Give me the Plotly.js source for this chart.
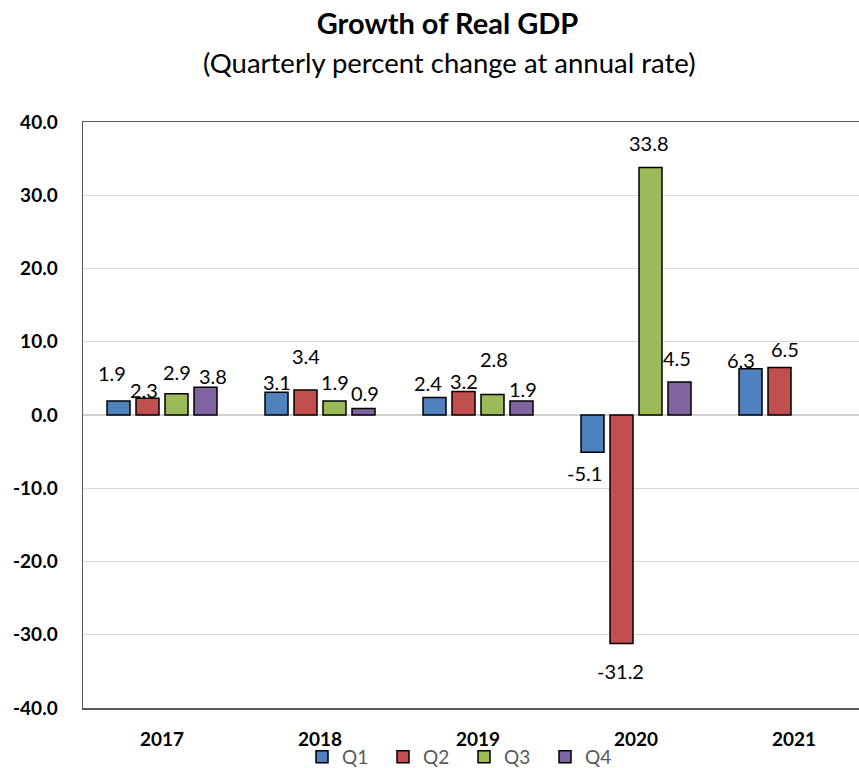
<!DOCTYPE html>
<html>
<head>
<meta charset="utf-8">
<script src="https://cdn.plot.ly/plotly-3.0.1.min.js"></script>
<style>
html, body { margin: 0; padding: 0; overflow: hidden; background: #fff; }
#chart { width: 895px; height: 768px; }
</style>
</head>
<body>
<div id="chart"></div>
<script>
// ---- data ----
const years = ["2017", "2018", "2019", "2020", "2021"];
const quarters = ["Q1", "Q2", "Q3", "Q4"];
const q1 = [1.9, 3.1, 2.4, -5.1, 6.3];
const q2 = [2.3, 3.4, 3.2, -31.2, 6.5];
const q3 = [2.9, 1.9, 2.8, 33.8, null];
const q4 = [3.8, 0.9, 1.9, 4.5, null];
const yTicks = [-40, -30, -20, -10, 0, 10, 20, 30, 40];

// ---- style ----
const colors = ["#4F81BD", "#C0504D", "#9BBB59", "#8064A2"];
const FONT = "Lato, 'Open Sans', sans-serif";
const slotPx = 29; // pixel distance between grouped bars
// label nudges in pixels [dx, dy] relative to bar end (dy positive = up)
const nudges = [
  [[-7, 28], [-4, 8], [0, 22], [7, 11]],
  [[0, 10], [0, 34], [0, 19], [1, 15]],
  [[-7, 14], [0, 11], [1, 35], [1, 12]],
  [[-8.5, -21], [-1.5, -27], [-2, 24], [-2.5, 24]],
  [[-9.5, 9], [5.5, 18], [0, 0], [0, 0]]
];

const series = [q1, q2, q3, q4];
const traces = series.map((vals, i) => ({
  type: "bar",
  name: quarters[i],
  x: years,
  y: vals,
  marker: { color: colors[i], line: { color: "#000000", width: 1.5 } },
  hoverinfo: "x+y+name"
}));

const annotations = [];
series.forEach((vals, i) => {
  vals.forEach((v, j) => {
    if (v === null || v === undefined) return;
    const n = nudges[j][i];
    annotations.push({
      x: j, y: v, xref: "x", yref: "y",   // j = category index of years[j]
      text: v.toFixed(1),
      showarrow: false,
      xanchor: "center", yanchor: "middle",
      xshift: (i - 1.5) * slotPx + n[0],
      yshift: n[1],
      font: { family: FONT, size: 20, color: "#000000" }
    });
  });
});

annotations.push({
  text: "(Quarterly percent change at annual rate)",
  xref: "paper", yref: "paper",
  x: (449 - 83) / 790, y: 1 + (122 - 63) / 586,
  xanchor: "center", yanchor: "middle",
  showarrow: false,
  font: { family: FONT, size: 27.5, color: "#000000" }
});

const layout = {
  width: 895, height: 768,
  margin: { l: 83, r: 22, t: 122, b: 60 },
  paper_bgcolor: "#ffffff", plot_bgcolor: "#ffffff",
  font: { family: FONT, color: "#000000" },
  title: {
    text: "<b>Growth of Real GDP</b>",
    x: 447.5 / 895, xref: "container", xanchor: "center",
    y: 1 - 24 / 768, yref: "container", yanchor: "middle",
    font: { family: FONT, size: 29, color: "#000000" }
  },
  barmode: "group",
  bargap: 0.266,
  bargroupgap: 0.207,
  xaxis: {
    type: "category",
    range: [-0.5, 4.5],
    showline: true, linecolor: "#595959", linewidth: 1.5, mirror: true,
    showgrid: false,
    ticks: "outside", ticklen: 14, tickcolor: "rgba(0,0,0,0)",
    tickfont: { family: FONT, size: 19, color: "#000000", weight: "bold" }
  },
  yaxis: {
    range: [-40, 40],
    tickvals: yTicks,
    ticktext: yTicks.map(v => "<b>" + v.toFixed(1) + "</b>"),
    showline: true, linecolor: "#595959", linewidth: 1.5, mirror: true,
    showgrid: true, gridcolor: "#d9d9d9", gridwidth: 1,
    zeroline: true, zerolinecolor: "#d0d0d0", zerolinewidth: 1.5,
    ticks: "outside", ticklen: 20, tickcolor: "rgba(0,0,0,0)",
    tickfont: { family: FONT, size: 19, color: "#000000" }
  },
  showlegend: true,
  legend: {
    orientation: "h",
    xref: "container", yref: "container",
    x: 302 / 895, xanchor: "left",
    y: 1 - 757 / 768, yanchor: "middle",
    entrywidth: 36, entrywidthmode: "pixels",
    itemwidth: 30,
    tracegroupgap: 0,
    font: { family: FONT, size: 19, color: "#595959" },
    bgcolor: "rgba(0,0,0,0)"
  },
  annotations: annotations
};

Plotly.newPlot("chart", traces, layout, { displayModeBar: false, staticPlot: true });
</script>
</body>
</html>
